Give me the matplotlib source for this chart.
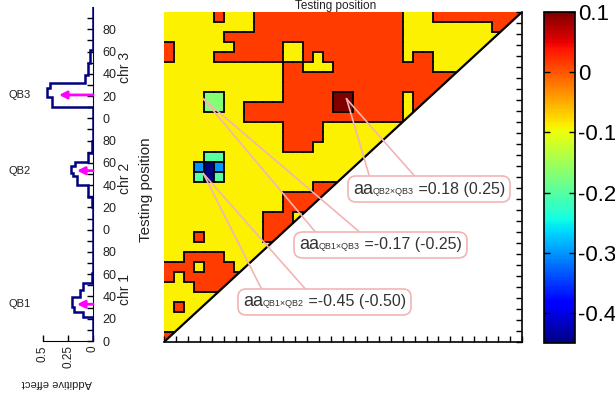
import numpy as np
import matplotlib
matplotlib.use("Agg")
import matplotlib.pyplot as plt
from matplotlib.collections import LineCollection
from matplotlib.patches import Polygon
from matplotlib.offsetbox import TextArea, HPacker, AnnotationBbox

plt.rcParams['font.family'] = ['Liberation Sans', 'DejaVu Sans']
plt.rcParams['axes.unicode_minus'] = False

# ---------------- data ----------------
chrom_names = ['chr 1', 'chr 2', 'chr 3']
chrom_length = 100
chrom_label_cm = 46
tick_label_cm = [0, 20, 40, 60, 80]

qtl_names = ['QB1', 'QB2', 'QB3']
qtl_pos = [33, 153, 221]          # cumulative testing position (cM)
qtl_arrow = [0.16, 0.16, 0.34]    # arrow length on the additive-effect axis

# additive-effect profile per chromosome: interval breaks (cM) and effect in each interval
chr1_breaks = [0, 21.5, 26, 30.5, 39.5, 45.8, 52, 61, 100]
chr1_effect = [0, 0.10, 0.19, 0.21, 0.13, 0.10, 0.01, 0]
chr2_breaks = [0, 20, 29, 40, 48, 51, 57, 61, 69, 80, 100]
chr2_effect = [0, 0.01, 0.05, 0.16, 0.20, 0.22, 0.18, 0.05, 0.01, 0]
chr3_breaks = [0, 10, 19, 27, 31.6, 38.8, 49.6, 61, 100]
chr3_effect = [0, 0.41, 0.46, 0.43, 0.08, 0.05, 0.03, 0]

# epistatic pairs: estimate and value in brackets
pair_index = [(1, 2), (0, 2), (0, 1)]
pair_est = [0.18, -0.17, -0.45]
pair_alt = [0.25, -0.25, -0.50]

# epistatic effect map, one symbol per cell, rows from top to bottom
level_values = {'Y': -0.09, 'R': 0.015, 'T': -0.20, 'B': -0.30,
                'D': pair_est[0], 'A': pair_est[1], 'N': pair_est[2]}
effect_map = [
    "YYYYYRYYYRRRRRRRRRRRRRRRYYYRRRRRRRRR",
    "YYYYYYYYYRRRRRRRRRRRRRRRYYYYYYYYYRR",
    "YYYYYYRRRRRRRRRRRRRRRRRRYYYYYYYYYY",
    "RYYYYYYRRRRRYYRRRRRRRRRRYYYYYYYYY",
    "RYYYYRRRRRRRYYRYRRRRRRRRYRRYYYYY",
    "YYYYYYYYYYYYRRYYYRRRRRRRRRRYYYY",
    "YYYYYYYYYYYYRRRRRRRRRRRRRRRRRR",
    "YYYYYYYYYYYYRRRRRRRRRRRRRRRRR",
    "YYYYAAYYYYYYRRRRRDDRRRRRYRRR",
    "YYYYAAYYRRRRRRRRRDDRRRRRYRR",
    "YYYYYYYYRRRRRRRRRRRRRRRRYY",
    "YYYYYYYYYYYYRRRRYYYYYYYYY",
    "YYYYYYYYYYYYRRRRYYYYYYY",
    "YYYYYYYYYYYYRRRYYYYYYY",
    "YYYYTTYYYYYYYYYYYYYYY",
    "YYYBNBYYYYYYYYYYYYYY",
    "YYYTNTYYYYYYYYYYYYY",
    "YYYYYYYYYYYYYYYRRR",
    "YYYYYYYYYYYYRRRRR",
    "YYYYYYYYYYYYRRRR",
    "YYYYYYYYYYRRRYR",
    "YYYYYYYYYYRRRY",
    "YYYRYYYYYYRRY",
    "YYYYYYYYYYY",
    "YYRRRRYYYY",
    "RRRYRRRYY",
    "RYRRRRRR",
    "YYYRRRR",
    "YYYYYY",
    "YRYYY",
    "YYYY",
    "YYY",
    "RY",
]

L = 300.0   # total testing position (cM)

# ---------------- figure ----------------
fig = plt.figure(figsize=(6.15, 4.03), dpi=100)
W, H = 615.0, 403.0

def px_axes(x0, y0, x1, y1):
    return fig.add_axes([x0 / W, 1 - y1 / H, (x1 - x0) / W, (y1 - y0) / H])

ax_prof = px_axes(43, 7, 93, 341)
ax = px_axes(164, 12, 522, 342)
cax = px_axes(544, 12, 575, 343)

# ---- heat map of epistatic effects ----
ncols = len(effect_map[0])
rows = [r.ljust(ncols, r[-1]) for r in effect_map]
nrows = len(rows)
codes = np.array([list(r) for r in rows])
vals = np.vectorize(level_values.get)(codes).astype(float)

xe = np.linspace(0, L, ncols + 1)
ye_top = np.linspace(L, 0, nrows + 1)
ye_up = ye_top[::-1]

tri = Polygon([(0, 0), (0, L), (L, L)], closed=True, transform=ax.transData,
              facecolor='none', edgecolor='none')
ax.add_patch(tri)

mesh = ax.pcolormesh(xe, ye_up, vals[::-1], cmap='jet', vmin=-0.45, vmax=0.1,
                     shading='flat', edgecolors='none', antialiased=False)
mesh.set_clip_path(tri)

segs = []
for r in range(nrows):
    for c in range(ncols):
        if c + 1 < ncols and codes[r, c] != codes[r, c + 1]:
            segs.append([(xe[c + 1], ye_top[r]), (xe[c + 1], ye_top[r + 1])])
        if r + 1 < nrows and codes[r, c] != codes[r + 1, c]:
            segs.append([(xe[c], ye_top[r + 1]), (xe[c + 1], ye_top[r + 1])])
edges = LineCollection(segs, colors='black', linewidths=1.3, capstyle='round')
ax.add_collection(edges)
edges.set_clip_path(tri)

ax.plot([0, L], [0, L], color='black', lw=1.6, solid_capstyle='butt')

ax.set_xlim(0, L)
ax.set_ylim(0, L)
ax.set_xticks(np.arange(0, L + 1, 10))
ax.set_yticks(np.arange(0, L + 1, 10))
ax.tick_params(axis='x', direction='in', length=4, width=1, bottom=True, top=False,
               labelbottom=False)
ax.tick_params(axis='y', direction='in', length=4, width=1, left=False, right=True,
               labelleft=False, labelright=False)
ax.spines['left'].set_visible(False)
ax.spines['top'].set_visible(False)
for s in ('right', 'bottom'):
    ax.spines[s].set_linewidth(1.2)

fig.text(146 / W, 1 - 190 / H, 'Testing position', rotation=90,
         ha='center', va='center', fontsize=11, color='#222222')
fig.text(336 / W, 1 - 0.5 / H, 'Testing position', ha='center', va='top',
         fontsize=8.5, color='#222222')

# ---- callouts for the epistatic pairs ----
pink = '#f3b4b4'
callout_layout = [
    # box centre (data), wedge base x-positions, base y
    ((222, 139), (172.6, 211.5), 149.0),
    ((181.4, 88.2), (129.0, 166.8), 97.3),
    ((134.5, 36.4), (83.0, 120.7), 45.5),
]
for (i, j), est, alt, (centre, bases, by) in zip(pair_index, pair_est, pair_alt,
                                                 callout_layout):
    tip = (qtl_pos[i], qtl_pos[j])
    for bx in bases:
        ax.plot([tip[0], bx], [tip[1], by], color=pink, lw=1.2, zorder=5,
                clip_on=False)
    parts = HPacker(children=[
        TextArea('aa', textprops=dict(size=13, color='#333333')),
        TextArea(f'{qtl_names[i]}×{qtl_names[j]}', textprops=dict(size=6.5, color='#333333')),
        TextArea(f' ={est:.2f} ({alt:.2f})', textprops=dict(size=11.5, color='#333333')),
    ], align='baseline', pad=0, sep=0)
    ab = AnnotationBbox(parts, centre, xycoords='data', frameon=True,
                        box_alignment=(0.5, 0.5), pad=0.25,
                        bboxprops=dict(boxstyle='round,pad=0.35,rounding_size=0.6',
                                       ec=pink, fc='white', lw=1.2),
                        annotation_clip=False, zorder=6)
    ax.add_artist(ab)

# ---- colour bar ----
cb = fig.colorbar(mesh, cax=cax, ticks=[0.1, 0, -0.1, -0.2, -0.3, -0.4])
cb.ax.set_yticklabels(['0.1', '0', '-0.1', '-0.2', '-0.3', '-0.4'])
cb.ax.tick_params(direction='in', length=4, width=1, left=True, right=True,
                  labelsize=16, pad=2)
cb.outline.set_linewidth(1.2)

# ---- additive-effect profile ----
profiles = [(chr1_breaks, chr1_effect), (chr2_breaks, chr2_effect),
            (chr3_breaks, chr3_effect)]
for k, (br, ef) in enumerate(profiles):
    ys = np.repeat(np.asarray(br, float), 2)[1:-1] + k * chrom_length
    xs = np.repeat(np.asarray(ef, float), 2)
    ax_prof.plot(xs, ys, color='#000080', lw=1.8, solid_joinstyle='miter')

for name, pos, length in zip(qtl_names, qtl_pos, qtl_arrow):
    ax_prof.annotate('', xy=(length, pos), xytext=(0, pos),
                     arrowprops=dict(arrowstyle='-|>', color='#ff00ff', lw=2,
                                     mutation_scale=11, shrinkA=0, shrinkB=0))
    ax_prof.text(-0.46, pos, name, transform=ax_prof.get_yaxis_transform(),
                 ha='center', va='center', fontsize=8, color='#222222')

for k, name in enumerate(chrom_names):
    ax_prof.text(1.64, k * chrom_length + chrom_label_cm, name,
                 transform=ax_prof.get_yaxis_transform(), rotation=90,
                 ha='center', va='center', fontsize=10, color='#222222')

yt = np.arange(0, 3 * chrom_length, 10)
ax_prof.set_yticks(yt)
ax_prof.set_yticklabels([str(int(v % chrom_length)) if int(v % chrom_length) in tick_label_cm
                         else '' for v in yt])
ax_prof.yaxis.tick_right()
ax_prof.tick_params(axis='y', direction='in', length=4, width=1, labelsize=9,
                    pad=7, labelcolor='#222222')
ax_prof.set_xlim(0.5, 0)
ax_prof.set_ylim(0, 3 * chrom_length)
ax_prof.set_xticks([0.5, 0.25, 0])
ax_prof.set_xticklabels(['0.5', '0.25', '0'], rotation=90)
ax_prof.tick_params(axis='x', direction='in', length=4, width=1, labelsize=8.5,
                    pad=3, labelcolor='#222222')
ax_prof.spines['left'].set_visible(False)
ax_prof.spines['top'].set_visible(False)
ax_prof.spines['right'].set_color('#000060')

fig.text(57 / W, 1 - 383 / H, 'Additive effect', rotation=180, ha='center',
         va='center', fontsize=8, color='#222222')

fig.savefig('out.png', dpi=100)
